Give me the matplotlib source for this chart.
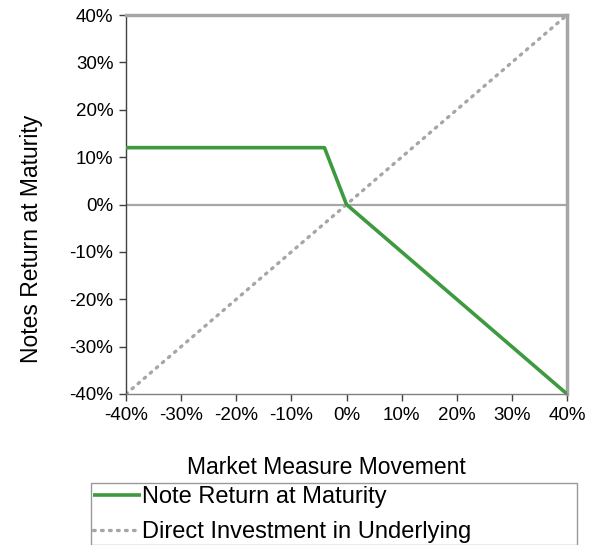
import matplotlib
matplotlib.use("Agg")
import matplotlib.pyplot as plt
from matplotlib.ticker import FuncFormatter

plt.rcParams['font.family'] = ['Liberation Sans', 'DejaVu Sans']

# Data (percent)
market_move = [-40, -4, 0, 40]
note_return = [12, 12, 0, -40]
direct_x = [-40, 40]
direct_y = [-40, 40]
ticks = [-40, -30, -20, -10, 0, 10, 20, 30, 40]

fig = plt.figure(figsize=(6.02, 5.45), dpi=100)
ax = fig.add_axes([126/602, 1-394/545, (567-126)/602, (394-15)/545])

ax.axhline(0, color='#A6A6A6', lw=1.6, zorder=1)
l2, = ax.plot(direct_x, direct_y, color='#A6A6A6', lw=2.4, linestyle=(0, (0.5, 1.9)),
              dash_capstyle='round', label='Direct Investment in Underlying', zorder=2)
l1, = ax.plot(market_move, note_return, color='#3E9A3E', lw=2.6, label='Note Return at Maturity',
              zorder=3, solid_capstyle='butt')

ax.set_xlim(-40, 40)
ax.set_ylim(-40, 40)
ax.set_xticks(ticks)
ax.set_yticks(ticks)
fmt = FuncFormatter(lambda v, p: f"{int(round(v))}%")
ax.xaxis.set_major_formatter(fmt)
ax.yaxis.set_major_formatter(fmt)
ax.tick_params(axis='both', direction='out', length=5, width=1, colors='#404040', labelsize=13.5,
               labelcolor='black', pad=4)

ax.spines['left'].set_color('#404040')
ax.spines['bottom'].set_color('#808080')
ax.spines['left'].set_linewidth(1.0)
ax.spines['bottom'].set_linewidth(1.0)
ax.spines['top'].set_color('#A6A6A6')
ax.spines['right'].set_color('#A6A6A6')
ax.spines['top'].set_linewidth(2.5)
ax.spines['right'].set_linewidth(2.5)

fig.text(32/602, 1-239/545, 'Notes Return at Maturity', ha='center', va='center',
         rotation=90, fontsize=16.5)
fig.text(326/602, 1-467/545, 'Market Measure Movement', ha='center', va='center', fontsize=16.5)

leg = fig.legend(handles=[l1, l2], loc='upper left',
                 bbox_to_anchor=(91/602, 1-484/545, (577-91)/602, 0.001), mode='expand',
                 borderaxespad=0, borderpad=0.1, fontsize=17, handlelength=2.0,
                 handletextpad=0.05, labelspacing=0.55, fancybox=False, frameon=True)
leg.get_frame().set_edgecolor('#808080')
leg.get_frame().set_linewidth(1.0)

fig.savefig('out.png', dpi=100)
